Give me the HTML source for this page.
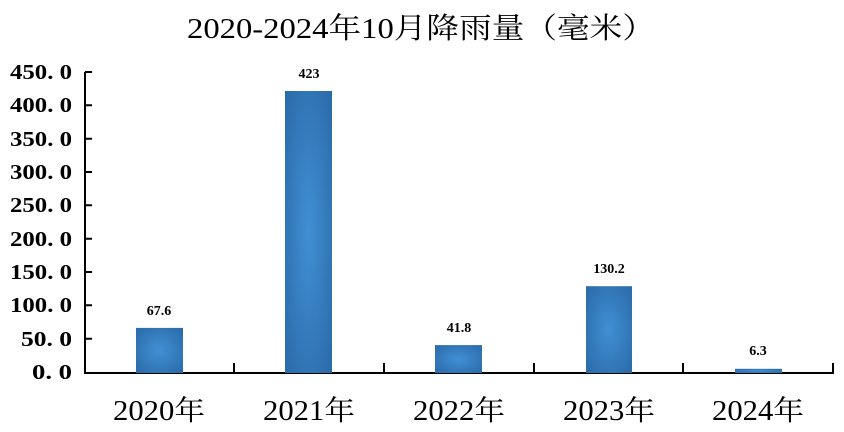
<!DOCTYPE html>
<html><head><meta charset="utf-8"><style>
html,body{margin:0;padding:0;background:#fff;}
svg{display:block;}
text{font-family:"Liberation Serif","Noto Serif CJK SC",serif;fill:#000;}
</style></head><body>
<svg width="844" height="432" viewBox="0 0 844 432" xmlns="http://www.w3.org/2000/svg">
<defs>
<radialGradient id="g" cx="50%" cy="50%" r="70%">
<stop offset="0" stop-color="#418fd4"/><stop offset="1" stop-color="#2a6aa8"/>
</radialGradient>
</defs>
<text x="421" y="38" font-size="29" text-anchor="middle" textLength="468" lengthAdjust="spacingAndGlyphs">2020-2024年10月降雨量（毫米）</text>
<g font-size="21" font-weight="bold" text-anchor="end">
<text x="72" y="79" textLength="62" lengthAdjust="spacingAndGlyphs">450. 0</text>
<text x="72" y="112" textLength="62" lengthAdjust="spacingAndGlyphs">400. 0</text>
<text x="72" y="146" textLength="62" lengthAdjust="spacingAndGlyphs">350. 0</text>
<text x="72" y="179" textLength="62" lengthAdjust="spacingAndGlyphs">300. 0</text>
<text x="72" y="212" textLength="62" lengthAdjust="spacingAndGlyphs">250. 0</text>
<text x="72" y="246" textLength="62" lengthAdjust="spacingAndGlyphs">200. 0</text>
<text x="72" y="279" textLength="62" lengthAdjust="spacingAndGlyphs">150. 0</text>
<text x="72" y="312" textLength="62" lengthAdjust="spacingAndGlyphs">100. 0</text>
<text x="72" y="346" textLength="51" lengthAdjust="spacingAndGlyphs">50. 0</text>
<text x="72" y="379" textLength="40" lengthAdjust="spacingAndGlyphs">0. 0</text>
</g>
<g stroke="#000" stroke-width="2" fill="none">
<line x1="85" y1="72" x2="85" y2="373"/>
<line x1="84" y1="373" x2="834" y2="373"/>
<path d="M85 72H92M85 105.3H92M85 138.7H92M85 172H92M85 205.3H92M85 238.7H92M85 272H92M85 305.3H92M85 338.7H92"/>
<path d="M234 373V363M384 373V363M534 373V363M683 373V363M833 373V363"/>
</g>
<g fill="url(#g)">
<rect x="136" y="327.9" width="47" height="45.1"/>
<rect x="285" y="91" width="47" height="282"/>
<rect x="435" y="345.1" width="47" height="27.9"/>
<rect x="586" y="286.2" width="46" height="86.8"/>
<rect x="735" y="368.8" width="47" height="4.2"/>
</g>
<g font-size="14" font-weight="bold" text-anchor="middle">
<text x="159" y="315">67.6</text>
<text x="309" y="78">423</text>
<text x="459" y="332">41.8</text>
<text x="609" y="273">130.2</text>
<text x="758" y="355">6.3</text>
</g>
<g font-size="28" text-anchor="middle">
<text x="159" y="420" textLength="92" lengthAdjust="spacingAndGlyphs">2020年</text>
<text x="309" y="420" textLength="92" lengthAdjust="spacingAndGlyphs">2021年</text>
<text x="459" y="420" textLength="92" lengthAdjust="spacingAndGlyphs">2022年</text>
<text x="609" y="420" textLength="92" lengthAdjust="spacingAndGlyphs">2023年</text>
<text x="758" y="420" textLength="92" lengthAdjust="spacingAndGlyphs">2024年</text>
</g>
</svg>
</body></html>
